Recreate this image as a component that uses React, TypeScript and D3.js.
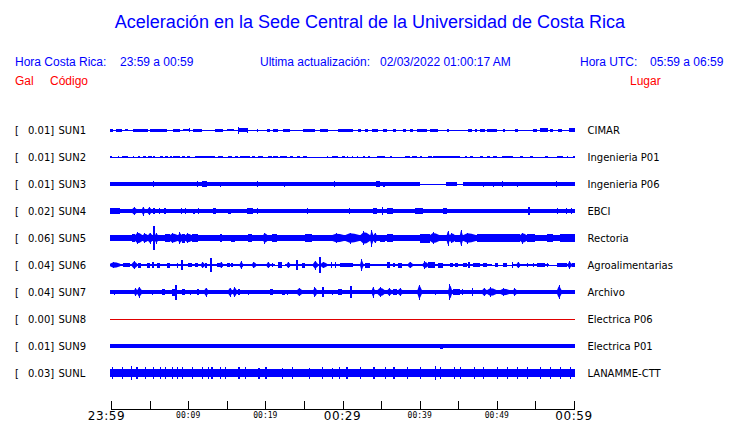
import React from 'react';
import * as d3 from 'd3';

// ---- data ----
const codes = ['SUN1', 'SUN2', 'SUN3', 'SUN4', 'SUN5', 'SUN6', 'SUN7', 'SUN8', 'SUN9', 'SUNL'];
const gals = [0.01, 0.01, 0.01, 0.02, 0.06, 0.04, 0.04, 0.0, 0.01, 0.03];
const places = ['CIMAR', 'Ingenieria P01', 'Ingenieria P06', 'EBCI', 'Rectoria', 'Agroalimentarias', 'Archivo', 'Electrica P06', 'Electrica P01', 'LANAMME-CTT'];
// background (noise) half-amplitude of each trace
const baseAmp = [0.5, 0.5, 1.7, 1.6, 2.8, 1.2, 1.7, 0.5, 1.6, 4.0];

// quiet intervals [startMin, endMin] where the trace falls to a flat line
const sun3Quiet = [[40.0, 43.4], [44.8, 45.6]];
const sun6Quiet = [[21.3, 22.5], [49.4, 52.0], [56.8, 57.8]];

// bursts [startMin, endMin, halfAmplitude]  (minutes after 23:59)
const sun1 = [[0, 0.3, 1.5], [0.65, 1.4, 1.5], [1.8, 2.2, 1.2], [2.85, 4.8, 1.5], [5.05, 7.26, 1.5], [8.0, 8.9, 1.5], [9.3, 10.2, 1.3], [10.1, 10.2, 2.0], [10.6, 11.8, 1.5], [13.5, 14.5, 1.5], [15.0, 16.0, 1.3], [16.4, 17.75, 1.7], [16.4, 16.55, 3.5], [17.6, 17.75, 2.5], [18.9, 19.1, 1.5], [20.2, 20.6, 1.5], [21.0, 21.6, 1.5], [22.3, 23.2, 1.5], [24.9, 26.4, 1.5], [27.1, 28.1, 1.5], [29.4, 31.4, 1.5], [32.0, 32.4, 1.5], [32.9, 33.3, 1.5], [33.8, 34.6, 1.5], [35.25, 35.8, 1.5], [36.5, 36.9, 1.5], [37.8, 38.2, 1.5], [38.75, 39.1, 1.5], [39.65, 40.95, 1.5], [41.3, 42.4, 1.5], [43.5, 43.8, 1.5], [46.3, 46.8, 1.5], [47.2, 47.4, 1.5], [47.8, 48.5, 1.5], [48.7, 50.0, 1.5], [50.8, 51.1, 1.5], [52.35, 52.7, 1.5], [54.7, 55.2, 1.5], [55.6, 56.6, 1.7], [56.9, 57.3, 1.5], [57.9, 58.4, 1.5], [59.4, 60, 1.7]];
const sun2 = [[0, 0.1, 1.3], [0.9, 1.0, 1.3], [1.4, 2.2, 1.3], [2.85, 3.0, 1.3], [3.5, 3.75, 1.3], [4.15, 4.5, 1.3], [4.8, 5.3, 1.3], [5.45, 5.7, 1.3], [6.35, 6.75, 1.3], [7.0, 7.4, 1.3], [7.65, 7.9, 1.3], [8.0, 8.95, 1.3], [9.2, 9.6, 1.3], [9.85, 10.25, 1.3], [10.9, 13.5, 1.3], [13.85, 14.5, 1.3], [15.15, 15.7, 1.3], [16.05, 16.45, 1.3], [16.7, 18.0, 1.3], [18.25, 18.65, 1.3], [19.05, 19.7, 1.3], [20.35, 20.85, 1.3], [21.0, 21.65, 1.3], [21.9, 22.8, 1.3], [23.2, 23.6, 1.3], [24.1, 24.5, 1.3], [24.9, 25.4, 1.3], [28.0, 28.1, 1.3], [28.65, 29.4, 1.3], [29.95, 30.3, 1.3], [30.6, 30.7, 1.3], [31.25, 31.35, 1.3], [31.9, 32.0, 1.3], [32.65, 32.9, 1.3], [33.3, 33.55, 1.3], [34.45, 35.5, 1.3], [36.15, 36.4, 1.3], [38.1, 38.75, 1.3], [39.0, 39.65, 1.3], [40.05, 40.3, 1.3], [41.1, 41.6, 1.3], [41.7, 45.25, 1.3], [45.9, 46.15, 1.3], [46.5, 46.9, 1.3], [47.8, 48.2, 1.3], [48.7, 49.1, 1.3], [49.5, 50.0, 1.3], [50.7, 52.1, 1.3], [53.0, 53.4, 1.3], [54.3, 54.7, 1.3], [56.25, 56.6, 1.3], [57.8, 58.6, 1.3], [59.1, 59.2, 1.3], [59.85, 60, 1.3]];
const sun3 = [[5.4, 5.5, 2.7], [11.1, 11.2, 2.7], [11.8, 12.5, 2.6], [14.1, 14.2, 2.5], [18.9, 19.0, 2.6], [22.4, 22.5, 2.5], [28.9, 29.0, 2.6], [34.4, 34.9, 2.6], [35.2, 35.5, 2.5], [43.4, 43.7, 1.8], [43.9, 44.8, 1.8], [48.2, 48.3, 2.5], [49.5, 49.6, 2.5], [50.7, 50.8, 2.6], [52.6, 52.7, 2.5], [57.7, 57.8, 2.6]];
const sun4 = [[0, 1.2, 2.8], [2.7, 3.4, 3.8], [4.0, 4.4, 4.5], [4.7, 5.3, 3.8], [5.5, 5.7, 2.7], [6.2, 6.4, 2.6], [6.9, 7.1, 2.6], [9.1, 9.2, 2.7], [9.6, 9.7, 3.0], [10.6, 10.9, 2.5], [11.3, 11.4, 3.0], [13.2, 13.6, 2.8], [15.2, 15.5, 2.5], [17.6, 18.4, 3.2], [18.9, 19.0, 2.7], [25.4, 25.5, 2.7], [30.8, 30.9, 3.2], [32.9, 33.3, 2.2], [33.9, 34.5, 2.8], [35.1, 35.2, 4.2], [35.8, 36.5, 2.6], [39.4, 40.4, 2.8], [41.6, 42.2, 2.3], [43.0, 43.5, 2.6], [46.1, 46.2, 2.2], [48.7, 49.4, 2.3], [52.0, 52.3, 2.2], [54.0, 54.3, 3.7], [55.6, 56.2, 2.3], [57.8, 57.9, 2.7], [59.0, 59.1, 2.6], [59.6, 59.7, 2.8]];
const sun5 = [[0, 0.9, 3.3], [1.8, 2.2, 3.3], [2.7, 3.1, 4.2], [3.1, 4.1, 6.2], [4.1, 4.8, 4.8], [4.8, 5.4, 5.5], [5.5, 5.7, 12], [5.7, 6.1, 5.5], [7.0, 7.6, 3.8], [7.6, 8.7, 5.0], [8.7, 9.2, 5.8], [9.2, 9.6, 4.5], [9.6, 10.5, 4.8], [10.5, 11.3, 3.8], [12.2, 13.2, 3.2], [14.1, 14.4, 4.2], [15.5, 16.1, 3.5], [17.8, 18.3, 4.2], [19.7, 20.3, 5.5], [20.9, 21.5, 3.8], [22.5, 24.5, 3.2], [25.1, 26.0, 4.2], [27.7, 28.4, 3.3], [28.6, 30.3, 4.8], [30.3, 32.3, 5.5], [32.3, 33.6, 7.0], [33.6, 34.0, 8.5], [34.0, 34.5, 5.0], [34.9, 35.5, 3.5], [35.8, 36.5, 4.0], [37.4, 38.7, 3.3], [40.0, 41.3, 4.5], [41.3, 42.6, 5.8], [43.5, 43.9, 7.5], [43.9, 44.6, 5.2], [44.6, 45.2, 3.5], [45.2, 45.6, 8.2], [45.6, 47.4, 5.5], [47.4, 53.0, 3.8], [53.0, 53.9, 5.5], [53.9, 54.9, 3.8], [56.5, 57.3, 4.0], [58.2, 60, 4.2]];
const sun6 = [[0, 1.2, 3.3], [1.6, 2.5, 2.3], [2.7, 3.4, 4.2], [3.5, 3.9, 2.5], [4.7, 5.1, 2.5], [5.3, 5.6, 3.3], [6.0, 6.3, 2.5], [7.3, 7.6, 2.5], [8.55, 8.7, 2.5], [9.1, 9.3, 4.7], [10.0, 10.5, 2.3], [10.9, 11.3, 2.3], [11.7, 12.1, 3.3], [12.2, 12.4, 2.5], [12.8, 13.1, 7.3], [13.7, 14.1, 2.3], [14.1, 14.5, 3.3], [15.0, 15.4, 2.3], [15.5, 15.8, 2.3], [16.7, 17.1, 4.2], [18.3, 18.8, 3.3], [20.2, 20.6, 3.3], [20.9, 21.0, 2.3], [21.7, 22.1, 2.8], [22.8, 23.2, 3.3], [24.0, 24.2, 4.7], [24.7, 25.1, 2.5], [26.2, 26.8, 4.5], [27.0, 27.2, 8.3], [27.2, 28.0, 3.3], [28.5, 28.6, 3.3], [29.0, 29.1, 3.3], [29.7, 31.4, 2.3], [32.3, 32.7, 6.0], [32.9, 33.6, 2.5], [35.8, 36.2, 2.8], [36.5, 36.8, 2.3], [37.2, 37.7, 2.5], [38.5, 39.1, 3.3], [40.4, 41.1, 3.8], [41.1, 42.0, 3.0], [42.4, 43.0, 2.5], [43.9, 44.3, 2.3], [44.6, 45.0, 2.3], [45.6, 46.1, 2.3], [46.3, 46.5, 2.8], [46.9, 47.8, 2.3], [48.2, 48.7, 1.8], [49.8, 50.1, 1.8], [50.8, 51.3, 2.0], [52.0, 52.1, 2.8], [52.6, 53.0, 3.3], [53.9, 54.0, 2.0], [54.7, 54.8, 2.0], [55.2, 56.2, 1.8], [56.5, 56.6, 2.0], [57.8, 59.1, 2.3], [59.2, 59.7, 3.8], [59.7, 60, 2.3]];
const sun7 = [[0.4, 0.5, 2.5], [3.0, 3.4, 4.2], [3.4, 4.0, 5.5], [5.3, 5.4, 2.5], [6.6, 7.0, 3.2], [7.9, 8.3, 3.5], [8.3, 8.6, 7.5], [9.2, 9.6, 3.3], [10.2, 10.3, 2.5], [11.1, 11.4, 3.3], [12.1, 12.6, 4.5], [15.2, 15.7, 4.5], [15.8, 16.3, 5.3], [16.5, 16.7, 2.8], [17.7, 17.8, 2.5], [20.6, 21.0, 3.3], [22.2, 22.5, 2.5], [22.8, 22.9, 2.5], [24.1, 24.8, 4.2], [26.2, 26.7, 5.3], [27.4, 27.5, 4.7], [28.6, 28.7, 2.5], [29.4, 29.9, 3.3], [31.0, 31.2, 5.8], [32.3, 32.4, 2.3], [33.8, 34.2, 5.5], [34.5, 35.5, 5.0], [35.8, 36.4, 3.7], [36.5, 37.1, 2.8], [37.2, 37.8, 3.7], [39.7, 40.3, 7.5], [42.0, 42.1, 2.5], [43.7, 44.2, 8.3], [44.3, 45.2, 3.3], [45.5, 45.6, 3.3], [46.8, 46.9, 4.2], [48.1, 48.7, 4.2], [48.7, 50.0, 4.7], [50.4, 51.7, 3.7], [52.1, 52.6, 3.7], [54.6, 54.7, 2.3], [57.8, 58.4, 7.0], [58.4, 60, 2.2]];
const sun8: number[][] = [];
const sun9 = [[9.2, 9.3, 2.4], [42.6, 43.0, 2.5]];
const sunL = [[0.1, 0.2, 5.8], [1.4, 1.5, 5.6], [2.6, 2.7, 6.7], [3.3, 3.4, 5.8], [4.4, 4.5, 6.0], [5.4, 5.5, 5.7], [6.3, 6.4, 6.2], [7.0, 7.1, 5.6], [7.9, 8.0, 6.0], [8.5, 8.6, 5.7], [9.2, 9.3, 6.2], [10.5, 10.6, 5.8], [11.8, 11.9, 6.0], [12.6, 12.7, 5.6], [13.0, 13.1, 6.3], [14.1, 14.2, 5.8], [14.8, 14.9, 6.0], [16.5, 16.6, 5.6], [17.4, 17.5, 5.8], [19.1, 19.2, 5.5], [20.0, 20.1, 5.7], [22.1, 22.2, 5.5], [23.4, 23.5, 5.6], [25.6, 25.7, 5.5], [27.3, 27.4, 5.7], [28.6, 28.7, 5.5], [29.5, 29.6, 5.8], [30.5, 30.6, 5.6], [32.3, 32.4, 5.8], [34.0, 34.1, 5.6], [35.5, 35.6, 5.9], [36.6, 36.7, 5.6], [38.3, 38.4, 5.7], [40.0, 40.1, 5.8], [42.0, 42.1, 6.7], [42.6, 42.7, 5.7], [44.4, 44.5, 5.8], [45.2, 45.3, 5.6], [47.0, 47.1, 5.7], [48.2, 48.3, 5.9], [50.0, 50.1, 5.6], [51.3, 51.4, 5.8], [52.6, 52.7, 5.6], [53.9, 54.0, 5.9], [55.6, 55.7, 5.7], [56.9, 57.0, 6.0], [58.2, 58.3, 5.6], [59.5, 59.6, 6.1]];

const bursts = [sun1, sun2, sun3, sun4, sun5, sun6, sun7, sun8, sun9, sunL];
const quiet: number[][][] = [[], [], sun3Quiet, [], [], sun6Quiet, [], [], [], []];

const tickMinutes = [0, 5, 10, 15, 20, 25, 30, 35, 40, 45, 50, 55, 60];
const labelMinutes = [0, 10, 20, 30, 40, 50, 60];
const labelTexts = ['23:59', '00:09', '00:19', '00:29', '00:39', '00:49', '00:59'];
const bigLabels = ['23:59', '00:29', '00:59'];

const BLUE = '#0000ff';
const RED = '#ff0000';
const SANS = '"Liberation Sans", Arial, sans-serif';
const DEJAVU = '"DejaVu Sans", sans-serif';
const MONO = '"DejaVu Sans Mono", monospace';

export default function App() {
  const x = d3.scaleLinear().domain([0, 60]).range([111, 574]);
  const y = d3.scaleBand<string>().domain(codes).range([116.5, 386.5]);
  const amp = d3.scaleLinear().domain([0, 10]).range([0, 10]);

  const traces = codes.map((code, i) => {
    const cy = (y(code) as number) + y.bandwidth() / 2;
    const color = code === 'SUN8' ? '#e00000' : BLUE;
    const rects: React.ReactNode[] = [];
    const q = quiet[i];
    const segs: number[][] = [];
    let cur = 0;
    q.forEach(([a, b]) => { segs.push([cur, a]); cur = b; });
    segs.push([cur, 60]);
    rects.push(<rect key="line" x={x(0) - 1} y={cy - 0.5} width={x(60) - x(0) + 2} height={1} fill={color} />);
    const b0 = amp(baseAmp[i]);
    if (b0 > 0.6) {
      segs.forEach(([a, b], k) => {
        const x0 = a === 0 ? x(0) - 1 : x(a);
        const x1 = b === 60 ? x(60) + 1 : x(b);
        rects.push(<rect key={'b' + k} x={x0} y={cy - b0} width={x1 - x0} height={2 * b0} fill={color} />);
      });
    }
    bursts[i].forEach(([s, e, a], k) => {
      const h = amp(a);
      const x0 = s === 0 ? x(0) - 1 : x(s);
      const x1 = e === 60 ? x(60) + 1 : x(e);
      const w = Math.max(1.2, x1 - x0);
      if (w >= 3 && h > b0 + 1.8) {
        // spindle-shaped burst envelope with a peak spike
        const lo = Math.max(b0, 0.5);
        const body = lo + (h - lo) * 0.72;
        const px = x0 + w * 0.32;
        const pts = [
          [x0, cy - lo], [px, cy - body], [x0 + w * 0.62, cy - body * 0.92], [x0 + w, cy - lo],
          [x0 + w, cy + lo], [x0 + w * 0.62, cy + body * 0.92], [px, cy + body], [x0, cy + lo],
        ];
        rects.push(<polygon key={'p' + k} points={pts.map((p) => p.join(',')).join(' ')} fill={color} shapeRendering="auto" />);
        rects.push(<rect key={'s' + k} x={Math.round(px)} y={cy - h} width={1} height={2 * h} fill={color} />);
      } else {
        rects.push(<rect key={'s' + k} x={x0} y={cy - h} width={w} height={2 * h} fill={color} />);
      }
    });
    return (
      <g key={code}>
        <text x={15} y={cy + 4} fontFamily={DEJAVU} fontSize={10} fill="#000">[</text>
        <text x={28} y={cy + 4} fontFamily={DEJAVU} fontSize={10} fill="#000">{gals[i].toFixed(2)}]</text>
        <text x={58.5} y={cy + 4} fontFamily={DEJAVU} fontSize={10} fill="#000">{code}</text>
        <g shapeRendering="crispEdges">{rects}</g>
        <text x={587.5} y={cy + 4} fontFamily={DEJAVU} fontSize={10} fill="#000">{places[i]}</text>
      </g>
    );
  });

  const axisY = 409;
  return (
    <svg width={740} height={423} style={{ position: 'absolute', left: 0, top: 0, background: '#fff' }}>
      <rect width={740} height={423} fill="#fff" />
      <text x={370} y={28} textAnchor="middle" fontFamily={SANS} fontSize={18} fill={BLUE}>
        Aceleración en la Sede Central de la Universidad de Costa Rica
      </text>
      <g fontFamily={SANS} fontSize={12} fill={BLUE}>
        <text x={15} y={65.5}>Hora Costa Rica:</text>
        <text x={120} y={65.5}>23:59 a 00:59</text>
        <text x={260} y={65.5}>Ultima actualización:</text>
        <text x={380} y={65.5}>02/03/2022 01:00:17 AM</text>
        <text x={580} y={65.5}>Hora UTC:</text>
        <text x={650} y={65.5}>05:59 a 06:59</text>
      </g>
      <g fontFamily={SANS} fontSize={12} fill={RED}>
        <text x={15} y={85}>Gal</text>
        <text x={50} y={85}>Código</text>
        <text x={630} y={85}>Lugar</text>
      </g>
      {traces}
      <g shapeRendering="crispEdges" stroke="#000" strokeWidth={1}>
        <line x1={x(0)} x2={x(60) + 1} y1={axisY + 0.5} y2={axisY + 0.5} />
        {tickMinutes.map((m) => (
          <line key={m} x1={Math.round(x(m)) + 0.5} x2={Math.round(x(m)) + 0.5} y1={axisY - 8} y2={axisY + 0.5} />
        ))}
      </g>
      {labelMinutes.map((m, i) => {
        const big = bigLabels.includes(labelTexts[i]);
        return (
          <text key={m} x={x(m) + (i === 0 ? -4.5 : 0)} y={big ? 420 : 417.5} textAnchor="middle"
            fontFamily={big ? DEJAVU : MONO} letterSpacing={big ? 0.6 : 0}
            fontSize={big ? 12 : 8} fill="#000">{labelTexts[i]}</text>
        );
      })}
    </svg>
  );
}
